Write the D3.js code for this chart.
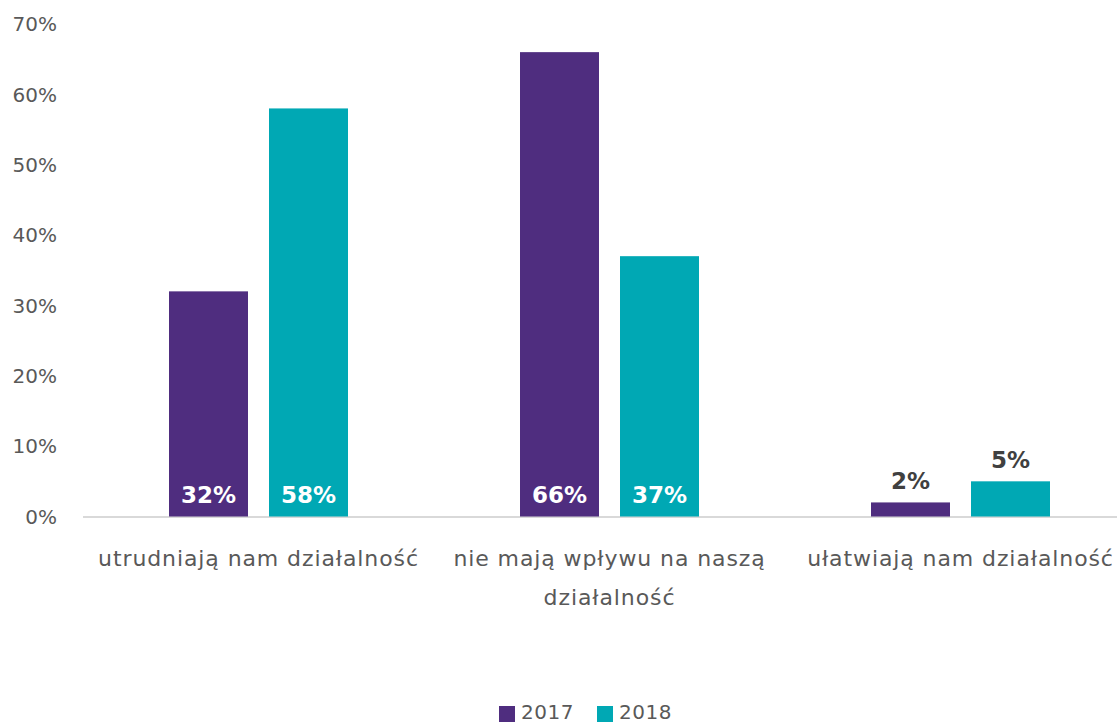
<!DOCTYPE html>
<html><head><meta charset="utf-8">
<script src="https://cdn.jsdelivr.net/npm/d3@7"></script>
<style>
body{margin:0;background:#fff;}
svg{display:block;font-family:"DejaVu Sans",sans-serif;}
</style></head>
<body><svg id="c" width="1117" height="724"></svg>
<script>
const categories = [["utrudniają nam działalność"], ["nie mają wpływu na naszą", "działalność"], ["ułatwiają nam działalność"]];
const categoryKeys = ["utrudniają", "nie mają", "ułatwiają"];
const seriesNames = ["2017", "2018"];
const values2017 = [32, 66, 2];
const values2018 = [58, 37, 5];
const yTicks = [0, 10, 20, 30, 40, 50, 60, 70];
const colors = ["#4f2d7f", "#00a8b4"];

const svg = d3.select("#c");
const x0 = d3.scaleBand().domain(categoryKeys).range([83, 1136]).paddingInner(0).paddingOuter(0);
const y = d3.scaleLinear().domain([0, 70]).range([516.5, 24]);
const barW = 79, gap = 21;

// y tick labels
svg.append("g").selectAll("text").data(yTicks).join("text")
  .attr("x", 57).attr("y", d => y(d)).attr("dy", "0.36em")
  .attr("text-anchor", "end").attr("fill", "#595959")
  .style("font-size", "20px").text(d => d + "%");

// axis line
svg.append("line").attr("x1", 83).attr("x2", 1117).attr("y1", y(0)+0.5).attr("y2", y(0)+0.5)
  .attr("stroke", "#d9d9d9").attr("stroke-width", 2);

const series = [values2017, values2018];
series.forEach((vals, si) => {
  const g = svg.append("g");
  const xs = (i) => x0(categoryKeys[i]) + x0.bandwidth()/2 + (si === 0 ? -gap/2 - barW : gap/2);
  g.selectAll("rect").data(vals).join("rect")
    .attr("x", (d,i) => xs(i)).attr("width", barW)
    .attr("y", d => y(d)).attr("height", d => y(0) - y(d))
    .attr("fill", colors[si]);
  g.selectAll("text").data(vals).join("text")
    .attr("x", (d,i) => xs(i) + barW/2)
    .attr("y", d => d >= 10 ? y(0) - 14 : y(d) - 13)
    .attr("text-anchor", "middle")
    .attr("fill", d => d >= 10 ? "#ffffff" : "#404040")
    .style("font-size", "23px").style("font-weight", "bold")
    .text(d => d + "%");
});

// category labels
categories.forEach((lines, i) => {
  const t = svg.append("text").attr("text-anchor", "middle").attr("fill", "#595959")
    .style("font-size", "22px").style("letter-spacing", "0.9px");
  lines.forEach((ln, j) => {
    t.append("tspan").attr("x", x0(categoryKeys[i]) + x0.bandwidth()/2)
      .attr("y", 566 + j*39).text(ln);
  });
});

// legend
const leg = svg.append("g");
const legX = [499, 597];
seriesNames.forEach((s, i) => {
  leg.append("rect").attr("x", legX[i]).attr("y", 706).attr("width", 16).attr("height", 16).attr("fill", colors[i]);
  leg.append("text").attr("x", legX[i] + 22).attr("y", 719).attr("fill", "#595959")
    .style("font-size", "20px").style("letter-spacing", "0.5px").text(s);
});
</script></body></html>
